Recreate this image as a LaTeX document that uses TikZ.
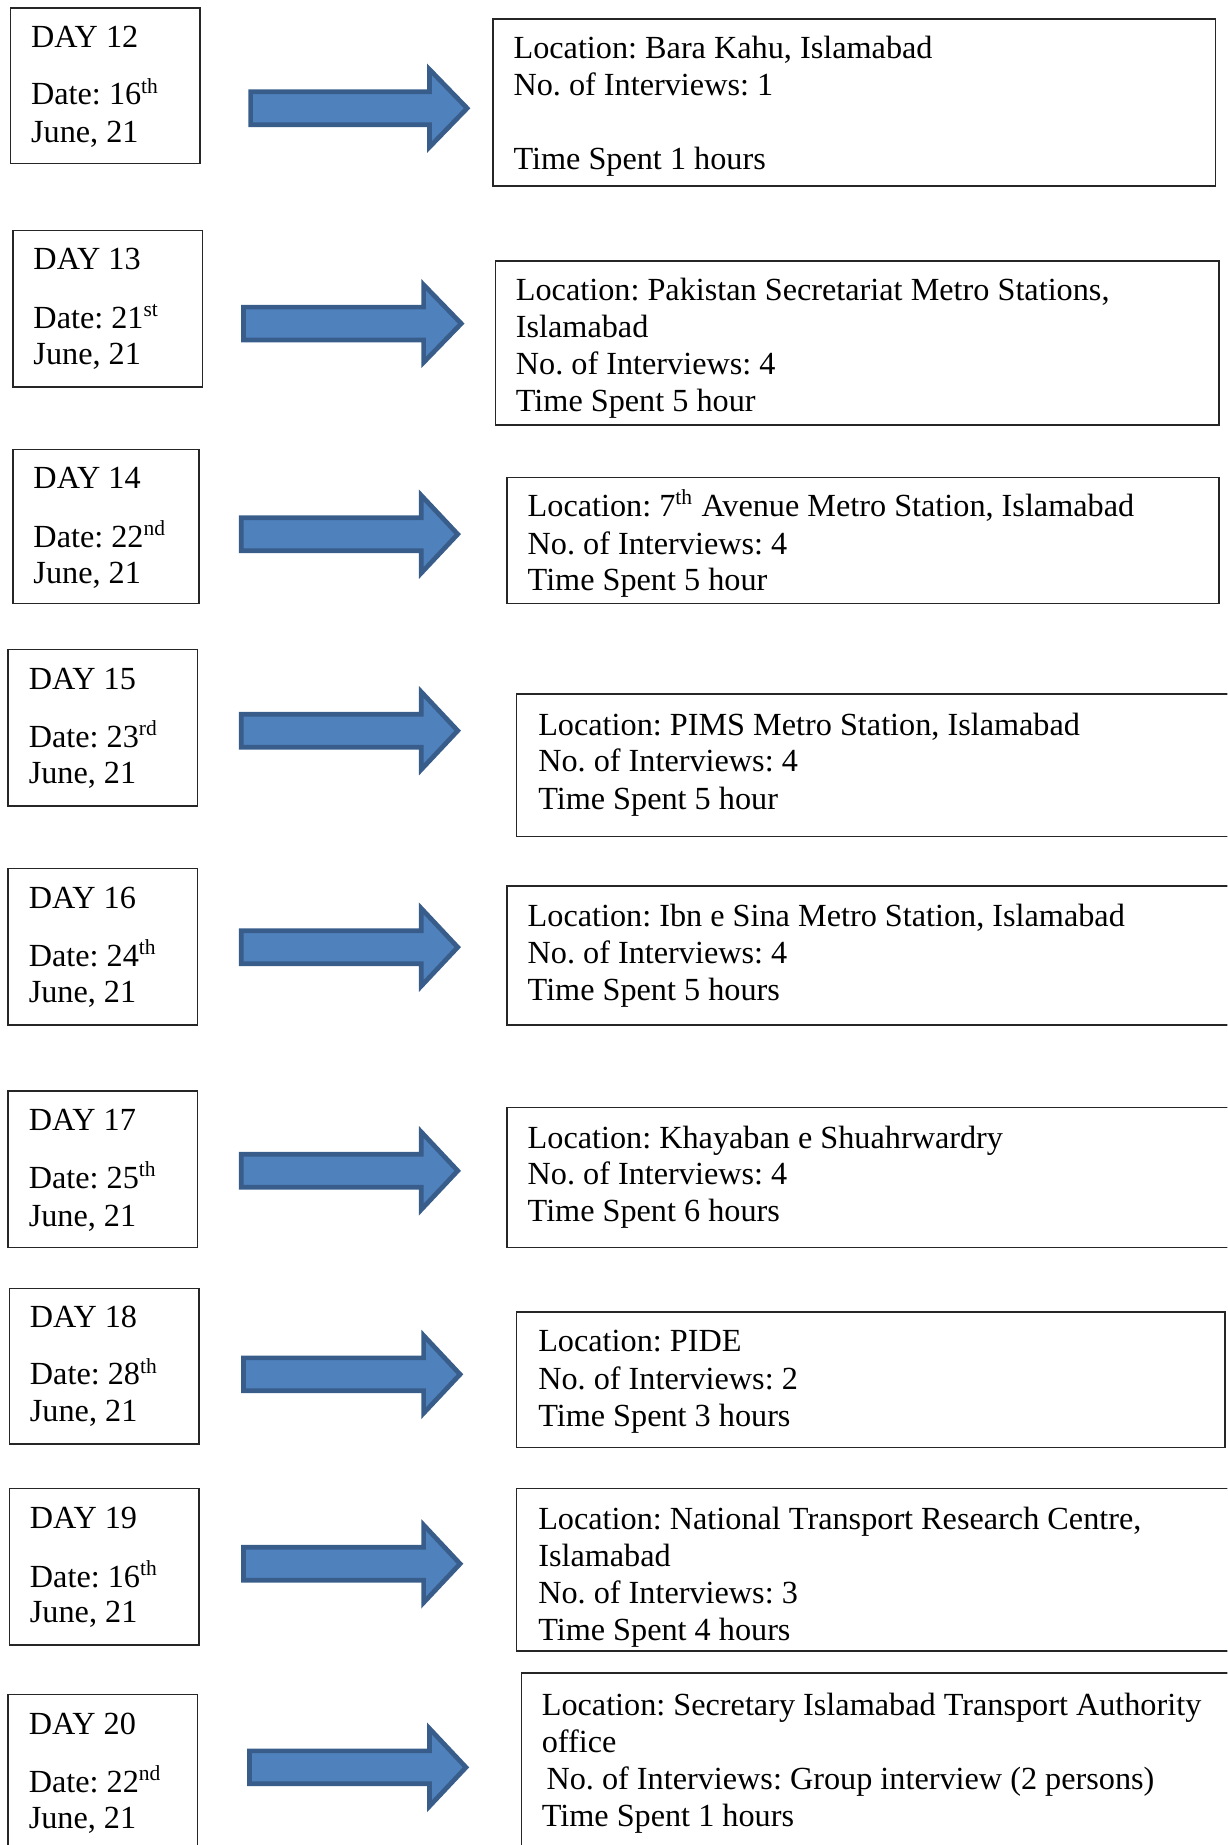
\documentclass[tikz,border=0pt]{standalone}
\usepackage{fontspec}
\setmainfont{Liberation Serif}
\usetikzlibrary{fit}
\definecolor{arrfill}{HTML}{4F81BD}
\definecolor{arrline}{HTML}{385D8A}
\frenchspacing
\newcommand{\tline}[4]{\node[lbl] (#1) at (#2,#3) {#4};}
\newcommand{\blockarrow}[5]{%
  \coordinate (#1) at (#2,#3);
  \filldraw[blkarrow] (#2,#3-14) -- (#4,#3-14) -- (#4,#3-33) -- (#5,#3) -- (#4,#3+33) -- (#4,#3+14) -- (#2,#3+14) -- cycle;}
\begin{document}
\begin{tikzpicture}[x=0.438pt,y=-0.438pt,
  lbl/.style={anchor=base west,inner sep=0pt,font=\fontsize{12}{14}\selectfont},
  dbox/.style={draw=black!85,line width=0.55pt,inner sep=0pt},
  blkarrow/.style={fill=arrfill,draw=arrline,line width=1.75pt,line join=miter}]
\useasboundingbox (0,0) rectangle (1043,1568);
\clip (0,0) rectangle (1043,1568);
% ---------- left boxes ----------
\node[dbox,fit={(9,7) (170,139)}] (d12) {};
\node[dbox,fit={(11,196) (172,329)}] (d13) {};
\node[dbox,fit={(11,382) (169,513)}] (d14) {};
\node[dbox,fit={(7,552) (168,685)}] (d15) {};
\node[dbox,fit={(7,738) (168,871)}] (d16) {};
\node[dbox,fit={(7,927) (168,1060)}] (d17) {};
\node[dbox,fit={(8,1095) (169,1227)}] (d18) {};
\node[dbox,fit={(8,1265) (169,1398)}] (d19) {};
\node[dbox,fit={(7,1440) (168,1590)}] (d20) {};
% ---------- right boxes ----------
\node[dbox,fit={(419,16) (1033,158)}] (r12) {};
\node[dbox,fit={(421,222) (1036,361)}] (r13) {};
\node[dbox,fit={(431,406) (1036,513)}] (r14) {};
\node[dbox,fit={(439,590) (1060,711)}] (r15) {};
\node[dbox,fit={(431,753) (1060,871)}] (r16) {};
\node[dbox,fit={(431,941) (1060,1060)}] (r17) {};
\node[dbox,fit={(439,1115) (1041,1230)}] (r18) {};
\node[dbox,fit={(439,1265) (1060,1403)}] (r19) {};
\node[dbox,fit={(443,1422) (1060,1590)}] (r20) {};
% ---------- arrows ----------
\blockarrow{a12}{213}{92}{365}{397}
\blockarrow{a13}{207}{275}{360}{392}
\blockarrow{a14}{205}{454}{358}{389}
\blockarrow{a15}{205}{621}{358}{389}
\blockarrow{a16}{205}{805}{358}{389}
\blockarrow{a17}{205}{995}{358}{389}
\blockarrow{a18}{207}{1168}{360}{391}
\blockarrow{a19}{207}{1329}{360}{391}
\blockarrow{a20}{212}{1502}{365}{396}
% ---------- left texts ----------
\tline{t12a}{26}{40}{DAY 12}
\tline{t12b}{26}{89}{Date: 16\textsuperscript{th}}
\tline{t12c}{26}{121}{June, 21}
\tline{t13a}{28}{229}{DAY 13}
\tline{t13b}{28}{279}{Date: 21\textsuperscript{st}}
\tline{t13c}{28}{310}{June, 21}
\tline{t14a}{28}{415}{DAY 14}
\tline{t14b}{28}{465}{Date: 22\textsuperscript{nd}}
\tline{t14c}{28}{496}{June, 21}
\tline{t15a}{24}{586}{DAY 15}
\tline{t15b}{24}{635}{Date: 23\textsuperscript{rd}}
\tline{t15c}{24}{666}{June, 21}
\tline{t16a}{24}{772}{DAY 16}
\tline{t16b}{24}{821}{Date: 24\textsuperscript{th}}
\tline{t16c}{24}{852}{June, 21}
\tline{t17a}{24}{961}{DAY 17}
\tline{t17b}{24}{1010}{Date: 25\textsuperscript{th}}
\tline{t17c}{24}{1042}{June, 21}
\tline{t18a}{25}{1128}{DAY 18}
\tline{t18b}{25}{1177}{Date: 28\textsuperscript{th}}
\tline{t18c}{25}{1208}{June, 21}
\tline{t19a}{25}{1299}{DAY 19}
\tline{t19b}{25}{1349}{Date: 16\textsuperscript{th}}
\tline{t19c}{25}{1379}{June, 21}
\tline{t20a}{24}{1474}{DAY 20}
\tline{t20b}{24}{1523}{Date: 22\textsuperscript{nd}}
\tline{t20c}{24}{1554}{June, 21}
% ---------- right texts ----------
\tline{u12a}{436}{50}{Location: Bara Kahu, Islamabad}
\tline{u12b}{436}{81}{No. of Interviews: 1}
\tline{u12c}{436}{144}{Time Spent 1 hours}
\tline{u13a}{438}{255}{Location: Pakistan Secretariat Metro Stations,}
\tline{u13b}{438}{287}{Islamabad}
\tline{u13c}{438}{318}{No. of Interviews: 4}
\tline{u13d}{438}{350}{Time Spent 5 hour}
\tline{u14a}{448}{439}{Location: 7\textsuperscript{th} Avenue Metro Station, Islamabad}
\tline{u14b}{448}{471}{No. of Interviews: 4}
\tline{u14c}{448}{502}{Time Spent 5 hour}
\tline{u15a}{457}{625}{Location: PIMS Metro Station, Islamabad}
\tline{u15b}{457}{656}{No. of Interviews: 4}
\tline{u15c}{457}{688}{Time Spent 5 hour}
\tline{u16a}{448}{787}{Location: Ibn e Sina Metro Station, Islamabad}
\tline{u16b}{448}{819}{No. of Interviews: 4}
\tline{u16c}{448}{850}{Time Spent 5 hours}
\tline{u17a}{448}{976}{Location: Khayaban e Shuahrwardry}
\tline{u17b}{448}{1007}{No. of Interviews: 4}
\tline{u17c}{448}{1038}{Time Spent 6 hours}
\tline{u18a}{457}{1149}{Location: PIDE}
\tline{u18b}{457}{1181}{No. of Interviews: 2}
\tline{u18c}{457}{1212}{Time Spent 3 hours}
\tline{u19a}{457}{1300}{Location: National Transport Research Centre,}
\tline{u19b}{457}{1331}{Islamabad}
\tline{u19c}{457}{1363}{No. of Interviews: 3}
\tline{u19d}{457}{1394}{Time Spent 4 hours}
\tline{u20a}{460}{1458}{Location: Secretary Islamabad Transport Authority}
\tline{u20b}{460}{1489}{office}
\tline{u20c}{464}{1521}{No. of Interviews: Group interview (2 persons)}
\tline{u20d}{460}{1552}{Time Spent 1 hours}
\end{tikzpicture}
\end{document}
